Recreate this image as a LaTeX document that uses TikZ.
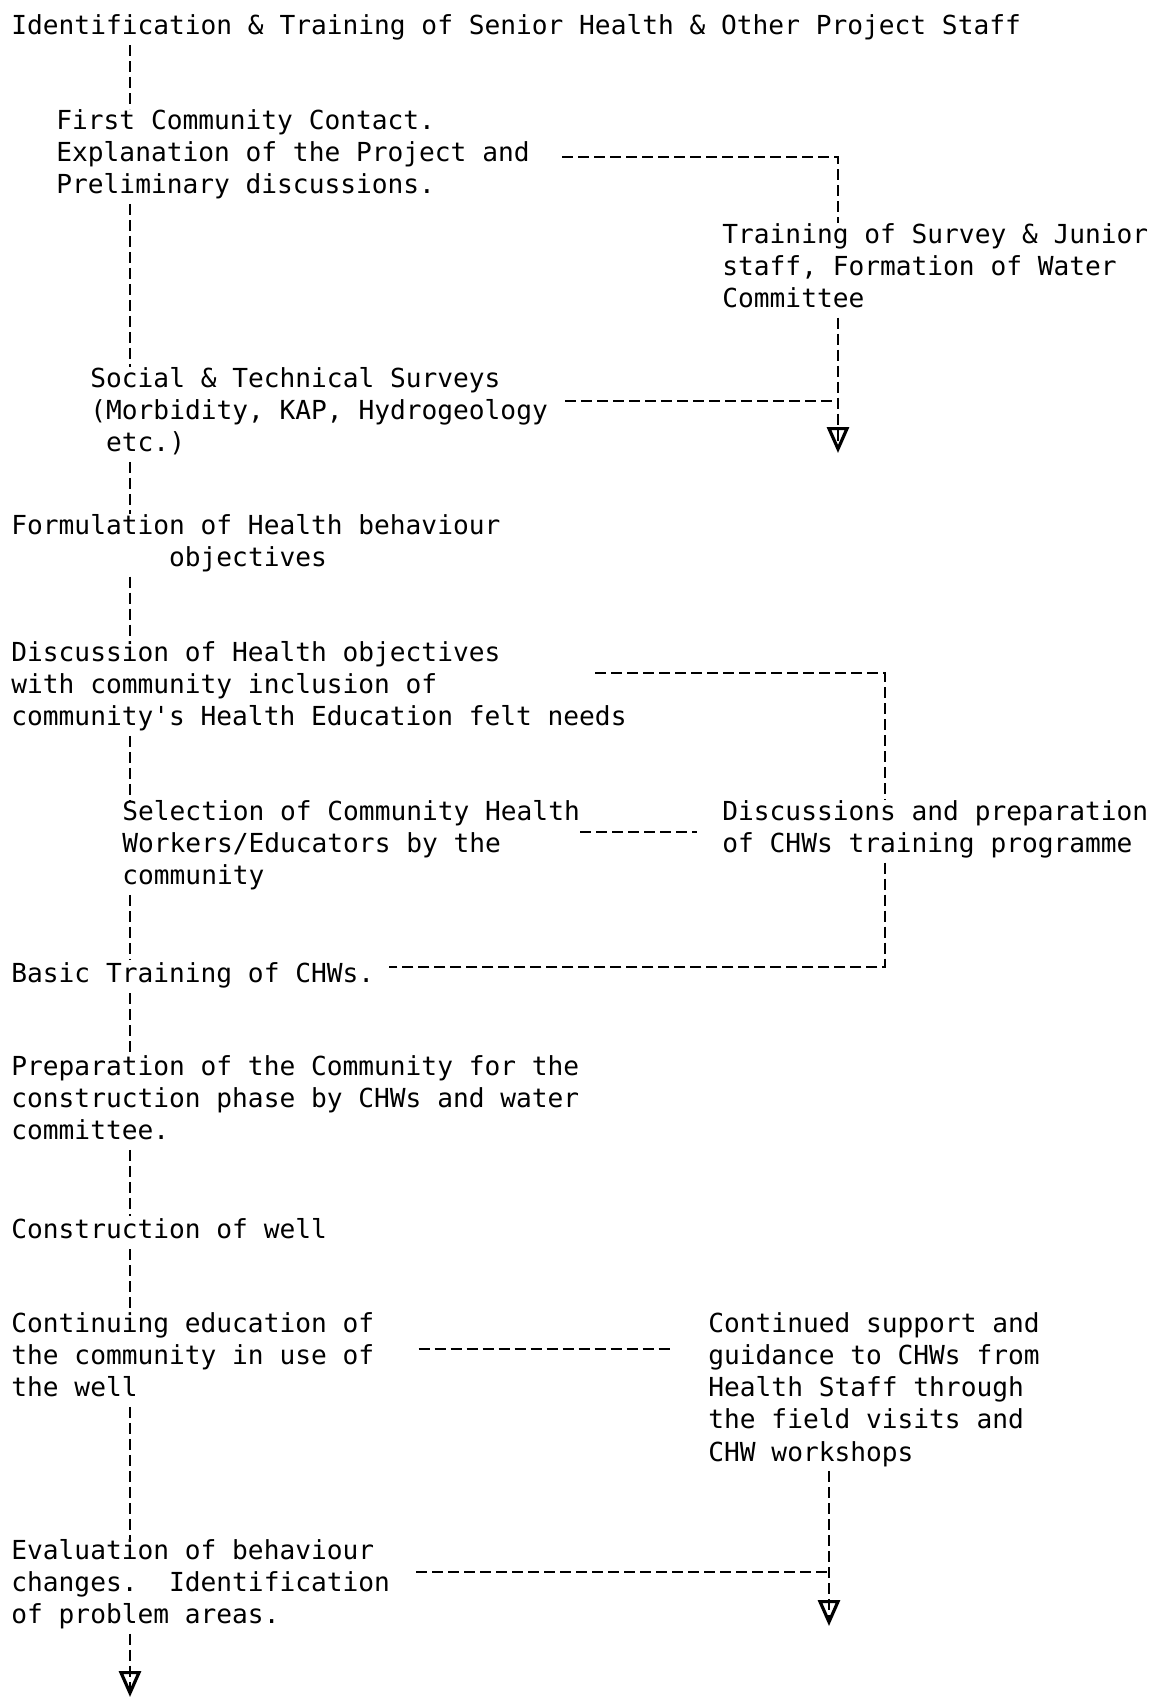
\documentclass[tikz,border=0pt]{standalone}
\usepackage{fontspec}
\usepackage{tikz}
\usetikzlibrary{arrows.meta}
\newfontfamily\typewriter{DejaVu Sans Mono}
\newcommand\stagefont{\typewriter\fontsize{13.1bp}{16.1bp}\selectfont}

\begin{document}
\begin{tikzpicture}[x=0.5bp, y=-0.5bp,
		stage/.style={anchor=north west, inner sep=0pt, align=left, font=\stagefont, yshift=-1.5bp,
			execute at begin node=\strut, execute at end node=\strut},
		link/.style={line width=1.3bp, dash pattern=on 5.5bp off 2.5bp},
		tip/.style={-{Triangle[open, length=13bp, width=11bp, line width=1.6bp]},
			postaction={draw, -, shorten >=3bp}}
	]
		\useasboundingbox (0,0) rectangle (1151,1699);
		%
		\node[stage] (staff) at (11,9) {Identification \& Training of Senior Health \& Other Project Staff};
		\node[stage] (contact) at (56,106) {First Community Contact.\\Explanation of the Project and\\Preliminary discussions.};
		\node[stage] (junior) at (722,220) {Training of Survey \& Junior\\staff, Formation of Water\\Committee};
		\node[stage] (survey) at (90,364) {Social \& Technical Surveys\\(Morbidity, KAP, Hydrogeology\\\phantom{x}etc.)};
		\node[stage] (formulate) at (11,511) {Formulation of Health behaviour\\\phantom{xxxxxxxxxx}objectives};
		\node[stage] (discuss) at (11,638) {Discussion of Health objectives\\with community inclusion of\\community's Health Education felt needs};
		\node[stage] (select) at (122,797) {Selection of Community Health\\Workers/Educators by the\\community};
		\node[stage] (prepare) at (722,797) {Discussions and preparation\\of CHWs training programme};
		\node[stage] (basic) at (11,957) {Basic Training of CHWs.};
		\node[stage] (phase) at (11,1052) {Preparation of the Community for the\\construction phase by CHWs and water\\committee.};
		\node[stage] (build) at (11,1213) {Construction of well};
		\node[stage] (continue) at (11,1309) {Continuing education of\\the community in use of\\the well};
		\node[stage] (support) at (708,1309) {Continued support and\\guidance to CHWs from\\Health Staff through\\the field visits and\\CHW workshops};
		\node[stage] (evaluate) at (11,1536) {Evaluation of behaviour\\changes.\phantom{xx}Identification\\of problem areas.};
		%
		\coordinate (spine) at (130,0);
		\coordinate (c1) at (838,157);
		\coordinate (c2) at (838,401);
		\coordinate (t1) at (838,453);
		\coordinate (d0) at (595,673);
		\coordinate (c3) at (885,673);
		\coordinate (c4) at (885,967);
		\coordinate (m1) at (0,832);
		\coordinate (k1) at (0,1349);
		\coordinate (c5) at (829,1572);
		\coordinate (t2) at (829,1626);
		\coordinate (t3) at (130,1697);
		%
		\foreach \a/\b in {staff/contact, contact/survey, survey/formulate, formulate/discuss,
			discuss/select, select/basic, basic/phase, phase/build, build/continue, continue/evaluate}
			\draw[link] (\a.south -| spine) -- (\b.north -| spine);
		\draw[link, tip] (evaluate.south -| spine) -- (t3);
		%
		\draw[link] ([xshift=16bp]contact.east |- c1) -- (c1) -- (junior.north -| c1);
		\draw[link, tip] (junior.south -| c1) -- (t1);
		\draw[link] ([xshift=8.5bp]survey.east |- c2) -- (c2);
		%
		\draw[link] (d0) -- (c3) -- (prepare.north -| c3);
		\draw[link] (prepare.south -| c3) -- (c4) -- ([xshift=7bp]basic.east |- c4);
		\draw[link] (select.east |- m1) -- ([xshift=-12.5bp]prepare.west |- m1);
		%
		\draw[link] ([xshift=22bp]continue.east |- k1) -- ([xshift=-18bp]support.west |- k1);
		\draw[link, tip] (support.south -| t2) -- (t2);
		\draw[link] ([xshift=13bp]evaluate.east |- c5) -- (c5);
	\end{tikzpicture}
\end{document}
